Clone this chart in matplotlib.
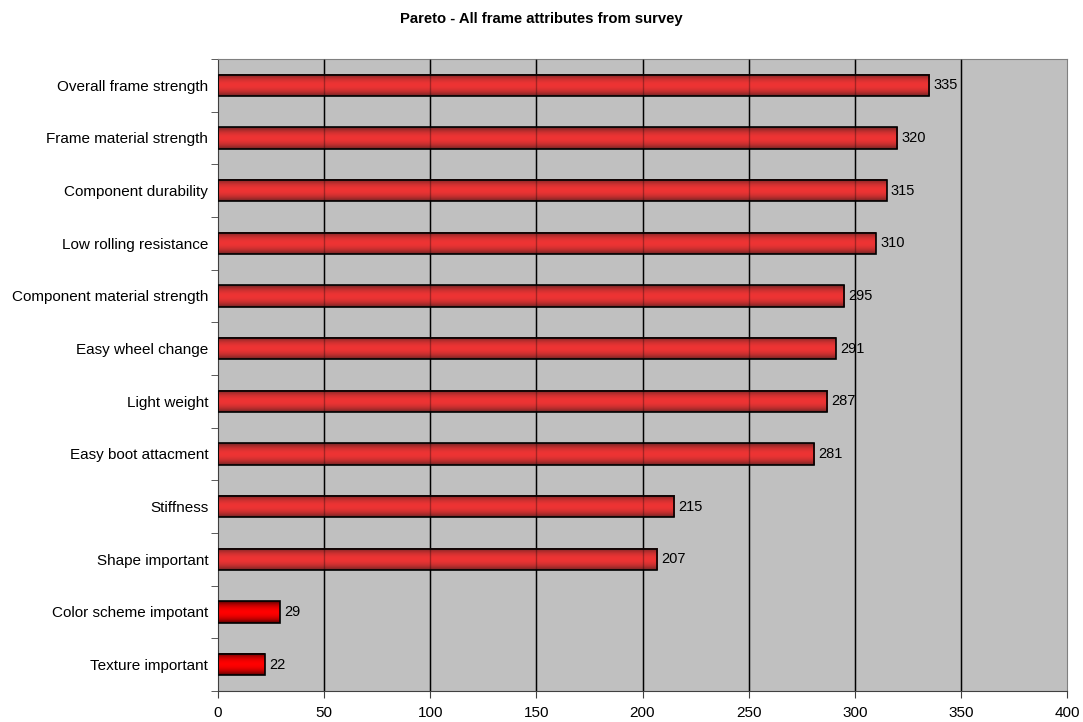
import numpy as np
import matplotlib
matplotlib.use("Agg")
import matplotlib.pyplot as plt
from matplotlib.patches import Rectangle

plt.rcParams['font.family'] = ['Liberation Sans', 'DejaVu Sans']

# survey data, top to bottom
attributes = ["Overall frame strength", "Frame material strength", "Component durability",
              "Low rolling resistance", "Component material strength", "Easy wheel change",
              "Light weight", "Easy boot attacment", "Stiffness", "Shape important",
              "Color scheme impotant", "Texture important"]
scores = [335, 320, 315, 310, 295, 291, 287, 281, 215, 207, 29, 22]
x_ticks = [0, 50, 100, 150, 200, 250, 300, 350, 400]


def bar_gradient(bright, dark, n=64):
    # cylinder-like shading across the bar height
    t = np.linspace(0, 1, n)
    w = np.sin(np.pi * t) ** 0.7
    bright = np.array(bright) / 255.0
    dark = np.array(dark) / 255.0
    cols = dark[None, :] + (bright - dark)[None, :] * w[:, None]
    return cols.reshape(n, 1, 3)


fig = plt.figure(figsize=(10.83, 7.22), dpi=100)
ax = fig.add_axes([218/1083, 1 - 691/722, (1067-218)/1083, (691-59)/722])
ax.set_facecolor('#c0c0c0')

bar_h = 0.4
for i, (name, val) in enumerate(zip(attributes, scores)):
    if val < 100:
        grad = bar_gradient((255, 0, 0), (70, 0, 0))
    else:
        grad = bar_gradient((238, 52, 52), (95, 35, 35))
    ax.imshow(grad, extent=[0, val, i + bar_h/2, i - bar_h/2], aspect='auto',
              interpolation='bilinear', zorder=2)
    ax.add_patch(Rectangle((0, i - bar_h/2), val, bar_h, fill=False,
                           edgecolor='black', lw=1.2, zorder=3))
    ax.text(val + 2, i, str(val), va='center', ha='left', fontsize=10.5, zorder=4)

ax.set_xlim(0, 400)
ax.set_ylim(len(attributes) - 0.5, -0.5)

# grid: full black behind, faint over the bars
for x in x_ticks[1:-1]:
    ax.axvline(x, color='black', lw=1, zorder=1)
    ax.axvline(x, color='black', lw=1, alpha=0.3, zorder=3.5)

ax.set_xticks(x_ticks)
ax.set_yticks(range(len(attributes)))
ax.set_yticklabels(attributes)
ax.set_yticks(np.arange(-0.5, len(attributes), 1), minor=True)
ax.tick_params(axis='y', which='major', length=0, pad=7, labelsize=11)
ax.tick_params(axis='y', which='minor', length=5, direction='out', color='#404040')
ax.tick_params(axis='x', length=5, direction='out', color='#404040', pad=6, labelsize=11)

for side in ['left', 'bottom']:
    ax.spines[side].set_color('#404040')
for side in ['top', 'right']:
    ax.spines[side].set_color('#808080')

fig.text(0.5, 1 - 19/722, "Pareto - All frame attributes from survey", ha='center',
         va='center', fontsize=10.7, fontweight='bold')

fig.savefig("out.png", dpi=100)
